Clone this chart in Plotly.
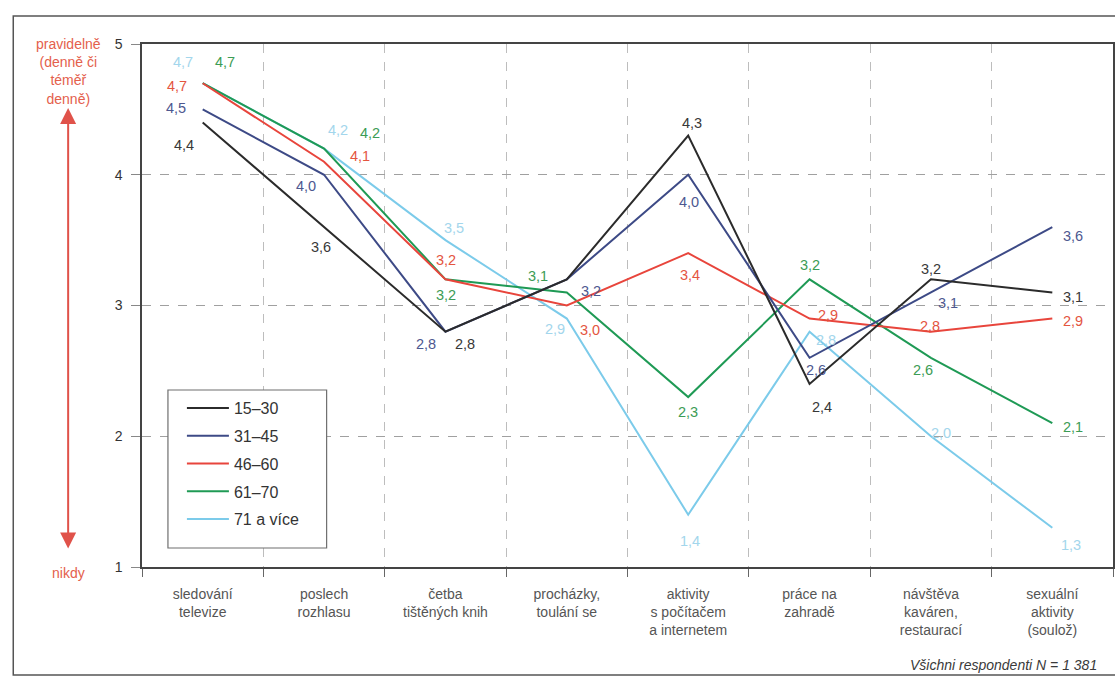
import plotly.graph_objects as go

# Activity categories (x axis)
categories = [
    "sledování<br>televize",
    "poslech<br>rozhlasu",
    "četba<br>tištěných knih",
    "procházky,<br>toulání se",
    "aktivity<br>s počítačem<br>a internetem",
    "práce na<br>zahradě",
    "návštěva<br>kaváren,<br>restaurací",
    "sexuální<br>aktivity<br>(soulož)",
]

# Average frequency per age group (1 = nikdy, 5 = pravidelně)
age_15_30 = [4.4, 3.6, 2.8, 3.2, 4.3, 2.4, 3.2, 3.1]
age_31_45 = [4.5, 4.0, 2.8, 3.2, 4.0, 2.6, 3.1, 3.6]
age_46_60 = [4.7, 4.1, 3.2, 3.0, 3.4, 2.9, 2.8, 2.9]
age_61_70 = [4.7, 4.2, 3.2, 3.1, 2.3, 3.2, 2.6, 2.1]
age_71_plus = [4.7, 4.2, 3.5, 2.9, 1.4, 2.8, 2.0, 1.3]

series_names = ["15–30", "31–45", "46–60", "61–70", "71 a více"]
series_values = [age_15_30, age_31_45, age_46_60, age_61_70, age_71_plus]

# Which points carry a value label (15–30 is unlabelled at "procházky")
label_mask = [
    [1, 1, 1, 0, 1, 1, 1, 1],
    [1, 1, 1, 1, 1, 1, 1, 1],
    [1, 1, 1, 1, 1, 1, 1, 1],
    [1, 1, 1, 1, 1, 1, 1, 1],
    [1, 1, 1, 1, 1, 1, 1, 1],
]

y_ticks = [1, 2, 3, 4, 5]

# Styling
line_colors = ["#2b2b2b", "#3d4a86", "#e8453c", "#1f9a55", "#7ccbea"]
text_colors = ["#383838", "#4d5890", "#e4553f", "#3c9c55", "#a3d6ec"]
FONT = "Liberation Sans, Arial, sans-serif"

# Label offsets in pixels (dx, dy; dy positive = downwards) for each point
label_offsets = [
    [(-19, 23), (-3, 20), (20, 12), (0, 0), (4, -13), (12, 23), (0, -10), (21, 5)],
    [(-27, -1), (-18, 11), (-19, 12), (24, 12), (1, 27), (6, 12), (17, 11), (21, 9)],
    [(-26, 3), (36, -6), (1, -19), (23, 24), (2, 22), (18, -4), (-1, -6), (21, 2)],
    [(22, -21), (46, -16), (1, 16), (-29, -16), (0, 15), (0, -14), (-8, 12), (21, 4)],
    [(-20, -21), (14, -19), (9, -12), (-12, 10), (2, 26), (16, 8), (10, -3), (19, 17)],
]

W, H = 1115, 677
M_L, M_R, M_T, M_B = 142, 0, 44, 110
plot_w = W - M_L - M_R
plot_h = H - M_T - M_B


def px_to_paper_x(px):
    return (px - M_L) / plot_w


def px_to_paper_y(py):
    return (H - M_B - py) / plot_h


fig = go.Figure()

# Draw oldest group first so the youngest lines sit on top;
# legendrank keeps the legend in age order
for i in reversed(range(len(series_names))):
    fig.add_trace(
        go.Scatter(
            x=categories,
            y=series_values[i],
            mode="lines",
            name=series_names[i],
            legendgroup=series_names[i],
            legendrank=i + 1,
            line=dict(color=line_colors[i], width=2),
            hoverinfo="skip",
        )
    )

annotations = []
for i, vals in enumerate(series_values):
    for j, v in enumerate(vals):
        if not label_mask[i][j]:
            continue
        dx, dy = label_offsets[i][j]
        annotations.append(
            dict(
                x=categories[j],
                y=v,
                xref="x",
                yref="y",
                text=f"{v:.1f}".replace(".", ","),
                showarrow=False,
                xshift=dx,
                yshift=-dy,
                font=dict(family=FONT, size=14.5, color=text_colors[i]),
            )
        )

# Scale description on the left
annotations.append(
    dict(
        x=px_to_paper_x(68),
        y=px_to_paper_y(34),
        xref="paper",
        yref="paper",
        text="pravidelně<br>(denně či<br>téměř<br>denně)",
        showarrow=False,
        xanchor="center",
        yanchor="top",
        align="center",
        font=dict(family=FONT, size=14, color="#e4604c"),
    )
)
annotations.append(
    dict(
        x=px_to_paper_x(68),
        y=px_to_paper_y(573),
        xref="paper",
        yref="paper",
        text="nikdy",
        showarrow=False,
        xanchor="center",
        yanchor="middle",
        font=dict(family=FONT, size=14, color="#e4604c"),
    )
)
# Double-headed arrow between the two extremes
annotations.append(
    dict(
        x=px_to_paper_x(68),
        y=px_to_paper_y(108),
        xref="paper",
        yref="paper",
        ax=0,
        ay=442,
        axref="pixel",
        ayref="pixel",
        text="",
        showarrow=True,
        arrowside="end+start",
        arrowhead=2,
        arrowsize=1.6,
        arrowwidth=2,
        arrowcolor="#e0524a",
        standoff=0,
        startstandoff=0,
    )
)
# Footnote
annotations.append(
    dict(
        x=px_to_paper_x(1101),
        y=px_to_paper_y(665),
        xref="paper",
        yref="paper",
        text="<i>Všichni respondenti N = 1 381</i>",
        showarrow=False,
        xanchor="right",
        yanchor="middle",
        font=dict(family=FONT, size=14, color="#3a3a3a"),
    )
)

shapes = [
    # Outer frame around the whole graphic
    dict(
        type="rect",
        xref="paper",
        yref="paper",
        x0=px_to_paper_x(13),
        x1=px_to_paper_x(1125),
        y0=px_to_paper_y(675),
        y1=px_to_paper_y(16),
        line=dict(color="#555555", width=1.5),
        layer="below",
    ),
    # Legend box
    dict(
        type="rect",
        xref="paper",
        yref="paper",
        x0=px_to_paper_x(168),
        x1=px_to_paper_x(327),
        y0=px_to_paper_y(548),
        y1=px_to_paper_y(390),
        line=dict(color="#6f6f6f", width=1.2),
        fillcolor="white",
        layer="above",
    ),
]

fig.update_layout(
    width=W,
    height=H,
    margin=dict(l=M_L, r=M_R, t=M_T, b=M_B),
    paper_bgcolor="white",
    plot_bgcolor="white",
    font=dict(family=FONT, size=14, color="#444444"),
    showlegend=True,
    legend=dict(
        x=px_to_paper_x(182),
        y=px_to_paper_y(391),
        xanchor="left",
        yanchor="top",
        bgcolor="rgba(0,0,0,0)",
        borderwidth=0,
        traceorder="grouped",
        tracegroupgap=4,
        itemwidth=42,
        font=dict(family=FONT, size=16, color="#333333"),
    ),
    annotations=annotations,
    shapes=shapes,
    xaxis=dict(
        type="category",
        categoryorder="array",
        categoryarray=categories,
        range=[-0.5, len(categories) - 0.5],
        tickson="boundaries",
        ticks="outside",
        ticklen=8,
        tickcolor="#666666",
        showgrid=True,
        gridcolor="#bdbdbd",
        griddash="dash",
        gridwidth=1,
        showline=True,
        linecolor="#444444",
        linewidth=1.5,
        mirror=True,
        ticklabelstandoff=13,
        tickfont=dict(family=FONT, size=14, color="#555555"),
        fixedrange=True,
    ),
    yaxis=dict(
        range=[1, 5],
        tickvals=y_ticks,
        ticktext=[str(t) for t in y_ticks],
        ticks="outside",
        ticklen=9,
        tickcolor="#888888",
        showgrid=True,
        gridcolor="#a0a0a0",
        griddash="dash",
        gridwidth=1,
        showline=True,
        linecolor="#444444",
        linewidth=1.5,
        mirror=True,
        zeroline=False,
        ticklabelstandoff=6,
        tickfont=dict(family=FONT, size=14, color="#333333"),
        fixedrange=True,
    ),
)

fig.write_html("out.html")
